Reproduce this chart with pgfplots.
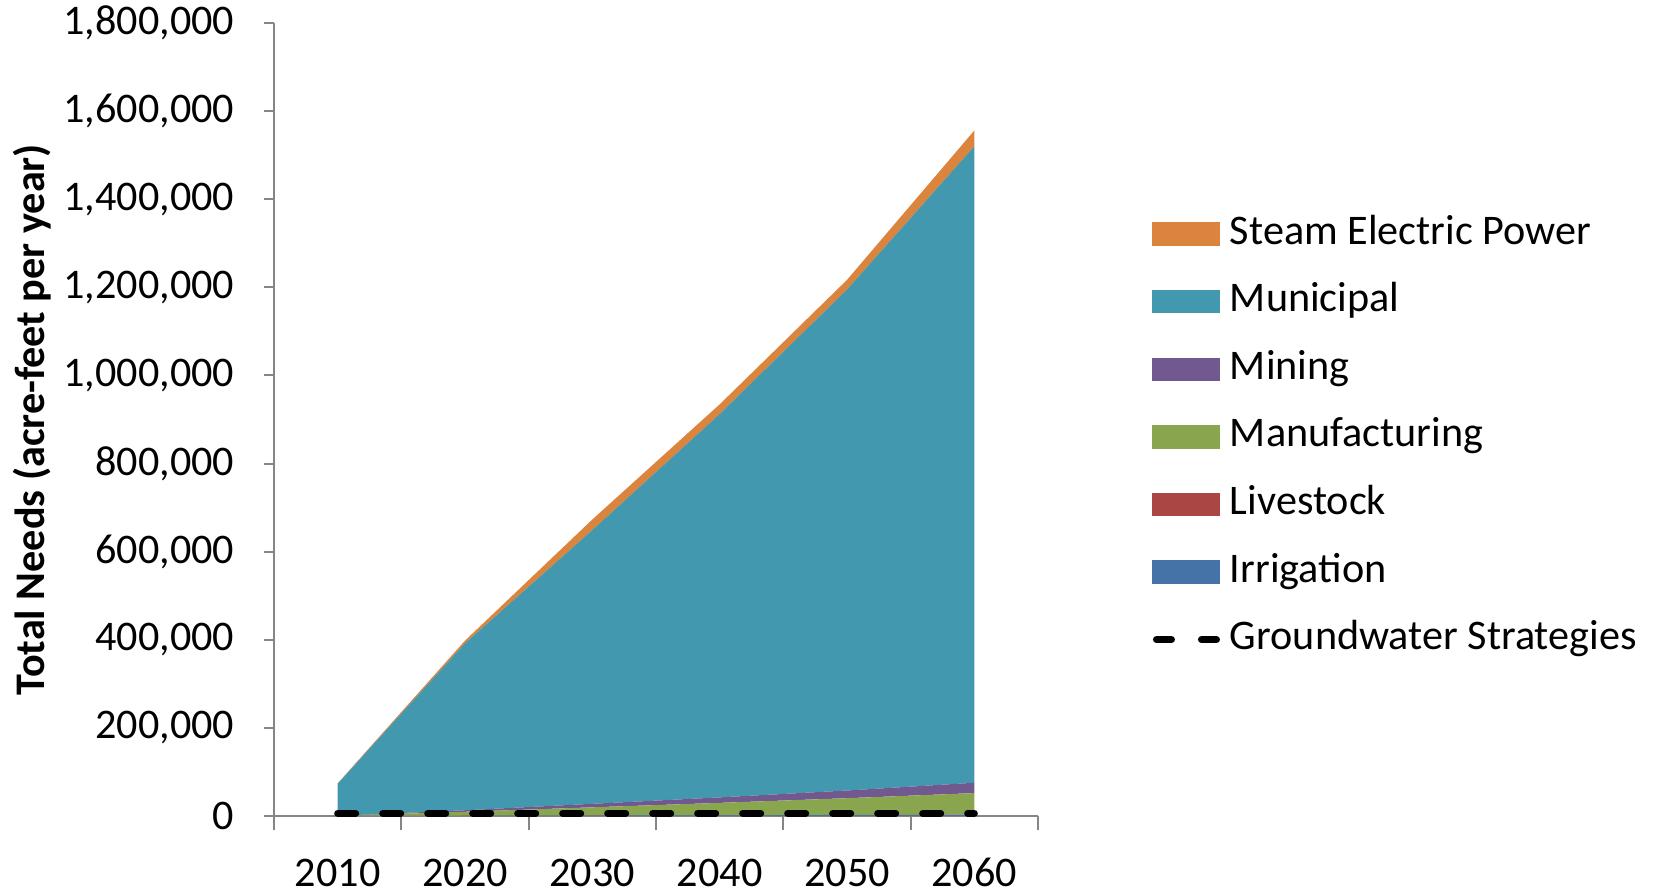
\documentclass[border=0pt]{standalone}
\usepackage{fontspec}
\setmainfont{Carlito}
\usepackage{pgfplots}
\pgfplotsset{compat=1.18}

\definecolor{steamc}{HTML}{DB843D}
\definecolor{munic}{HTML}{4198AF}
\definecolor{minec}{HTML}{71588F}
\definecolor{manuc}{HTML}{89A54E}
\definecolor{livec}{HTML}{AA4643}
\definecolor{irric}{HTML}{4572A7}
\definecolor{axisgray}{HTML}{868686}

\begin{document}
\begin{tikzpicture}[font=\fontsize{12}{14.4}\selectfont]
\useasboundingbox (-27.4mm,-7.6mm) rectangle (138.7mm,81.6mm);
\begin{axis}[
    scale only axis,
    width=76.4mm, height=79.3mm,
    xmin=-0.5, xmax=5.5,
    ymin=0, ymax=1800000,
    stack plots=y,
    axis x line=bottom, axis y line=left,
    axis line style={-, draw=axisgray, line width=0.6pt},
    tick style={draw=axisgray, line width=0.6pt},
    tick align=outside,
    major tick length=1mm,
    minor tick length=1.4mm,
    xtick={0,...,5},
    xticklabels={2010,2020,2030,2040,2050,2060},
    major x tick style={draw=none},
    minor xtick={-0.5,0.5,...,5.5},
    xticklabel style={anchor=base, yshift=-6.0mm},
    ytick distance=200000,
    scaled y ticks=false,
    yticklabel style={anchor=east, inner sep=0pt, xshift=-2.9mm,
      /pgf/number format/.cd, fixed, precision=0, 1000 sep={,}},
    /pgf/number format/assume math mode=true,
    ylabel={\bfseries Total Needs (acre-feet per year)},
    ylabel style={at={(axis description cs:-0.317,0.5)}, anchor=center},
    legend style={at={(1.148,0.76)}, anchor=north west, draw=none, fill=none,
      inner sep=0pt, row sep=2.76mm, column sep=0.9mm,
      nodes={inner sep=0pt, text height=3mm, text depth=1mm}},
    legend cell align=left,
  ]
  % Irrigation
  \addplot[fill=irric, draw=none, forget plot] coordinates {
    (0,0) (1,500) (2,1000) (3,1500) (4,2000) (5,2500)} \closedcycle;
  % Livestock
  \addplot[fill=livec, draw=none, forget plot] coordinates {
    (0,0) (1,100) (2,200) (3,300) (4,400) (5,500)} \closedcycle;
  % Manufacturing
  \addplot[fill=manuc, draw=none, forget plot] coordinates {
    (0,500) (1,9000) (2,18500) (3,28000) (4,38000) (5,49000)} \closedcycle;
  % Mining
  \addplot[fill=minec, draw=none, forget plot] coordinates {
    (0,0) (1,3500) (2,8000) (3,12500) (4,17500) (5,23500)} \closedcycle;
  % Municipal
  \addplot[fill=munic, draw=none, forget plot] coordinates {
    (0,72500) (1,378900) (2,621300) (3,870000) (4,1137000) (5,1444500)} \closedcycle;
  % Steam Electric Power
  \addplot[fill=steamc, draw=none, forget plot] coordinates {
    (0,1000) (1,6000) (2,24000) (3,22000) (4,22000) (5,36000)} \closedcycle;

  \addlegendimage{legend image code/.code={\fill[steamc] (0mm,-1.1mm) rectangle (6.7mm,1.1mm);}}
  \addlegendentry{Steam Electric Power}
  \addlegendimage{legend image code/.code={\fill[munic] (0mm,-1.1mm) rectangle (6.7mm,1.1mm);}}
  \addlegendentry{Municipal}
  \addlegendimage{legend image code/.code={\fill[minec] (0mm,-1.1mm) rectangle (6.7mm,1.1mm);}}
  \addlegendentry{Mining}
  \addlegendimage{legend image code/.code={\fill[manuc] (0mm,-1.1mm) rectangle (6.7mm,1.1mm);}}
  \addlegendentry{Manufacturing}
  \addlegendimage{legend image code/.code={\fill[livec] (0mm,-1.1mm) rectangle (6.7mm,1.1mm);}}
  \addlegendentry{Livestock}
  \addlegendimage{legend image code/.code={\fill[irric] (0mm,-1.1mm) rectangle (6.7mm,1.1mm);}}
  \addlegendentry{Irrigation}
  \addlegendimage{legend image code/.code={\draw[black, line width=2pt, line cap=round, dash pattern=on 1.5mm off 3.0mm] (0.4mm,0mm) -- (6.5mm,0mm);}}
  \addlegendentry{Groundwater Strategies}
\end{axis}
\begin{axis}[
    scale only axis,
    width=76.4mm, height=79.3mm,
    xmin=-0.5, xmax=5.5,
    ymin=0, ymax=1800000,
    hide axis,
  ]
  % Groundwater Strategies
  \addplot[black, line width=2pt, line cap=round,
    dash pattern=on 1.8mm off 2.7mm] coordinates {
    (0,6000) (1,6000) (2,6000) (3,6000) (4,6000) (5,6000)};
\end{axis}
\end{tikzpicture}
\end{document}
